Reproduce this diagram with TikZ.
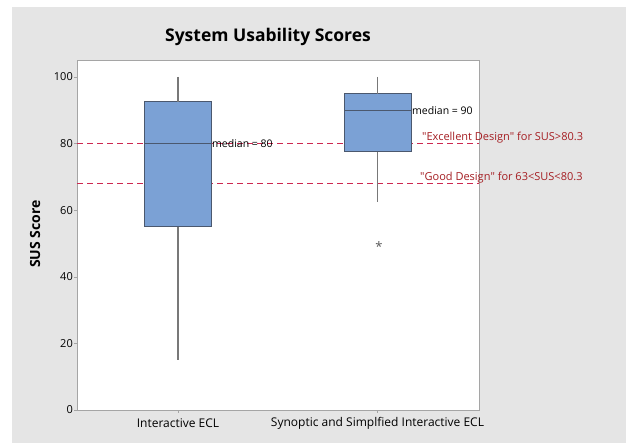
\documentclass[tikz,border=0pt]{standalone}
\usepackage{fontspec}
\setmainfont{Open Sans}
\usepackage{xcolor}

\definecolor{paneGray}{RGB}{229,229,229}
\definecolor{frameGray}{RGB}{165,165,165}
\definecolor{boxBlue}{RGB}{123,161,213}
\definecolor{boxEdge}{RGB}{75,88,110}
\definecolor{whiskGray}{RGB}{120,120,120}
\definecolor{dashRed}{RGB}{205,40,80}
\definecolor{noteRed}{RGB}{165,30,35}

\tikzset{
  boxpart/.style={fill=boxBlue,draw=boxEdge,line width=1pt},
  whisker/.style={draw=whiskGray,line width=1.3pt},
  refline/.style={draw=dashRed,line width=1.3pt,dash pattern=on 6pt off 4pt},
  ticklabel/.style={left,font=\fontsize{11}{13}\selectfont,inner sep=1pt},
  grouplabel/.style={font=\fontsize{12}{14}\selectfont},
  mediannote/.style={right,font=\fontsize{10.5}{12}\selectfont,inner sep=1pt},
  designnote/.style={right,text=noteRed,font=\fontsize{11}{13}\selectfont,inner sep=0pt}
}

\begin{document}
\begin{tikzpicture}[x=1pt,y=1pt,line cap=butt]
\useasboundingbox (0,0) rectangle (626,445);
\fill[white] (0,0) rectangle (626,445);
\fill[paneGray] (12,2) rectangle (626,438);
\node[font=\fontsize{17.5}{20}\selectfont\bfseries] (title) at (268,408) {System Usability Scores};
\node[rotate=90,font=\fontsize{14}{16}\selectfont\bfseries] (ytitle) at (35,211) {SUS Score};

\begin{scope}[shift={(77,35)},y=3.33pt]
% plot area
\fill[white] (0,0) rectangle (402,105.1);
\draw[frameGray,line width=1pt] (0,0) rectangle (402,105.1);
\foreach \v in {0,20,...,100} {
  \draw[frameGray] (-3,\v) -- (0,\v);
  \node[ticklabel] (tick\v) at (-3,\v) {\v};
}
% reference lines
\draw[refline] (0,80) -- (402,80);
\draw[refline] (0,68) -- (402,68);
% Interactive ECL
\coordinate (maxA) at (101,100);
\coordinate (minA) at (101,15);
\draw[boxpart] (67,55) rectangle (134,92.5);
\draw[whisker] (maxA) -- (101,92.5);
\draw[whisker] (101,55) -- (minA);
\draw[boxEdge,line width=1pt] (67,80) -- (134,80);
% Synoptic and Simplified Interactive ECL
\coordinate (maxB) at (300.5,100);
\coordinate (minB) at (300.5,62.5);
\draw[boxpart] (267,77.5) rectangle (334,95);
\draw[whisker] (maxB) -- (300.5,95);
\draw[whisker] (300.5,77.5) -- (minB);
\draw[boxEdge,line width=1pt] (267,90) -- (334,90);
\node[text=black!65,font=\fontsize{13}{14}\selectfont,inner sep=0pt] (outlier) at (302,49.2) {*};
% x axis
\draw[frameGray] (101,0) -- (101,-1);
\draw[frameGray] (300.5,0) -- (300.5,-1);
\node[grouplabel] (groupA) at (101,-3.9) {Interactive ECL};
\node[grouplabel] (groupB) at (300.5,-3.9) {Synoptic and Simplfied Interactive ECL};
% notes
\node[mediannote] (medA) at (134,80) {median = 80};
\node[mediannote] (medB) at (334,90) {median = 90};
\node[designnote] (excellent) at (345,81.7) {\textquotedbl Excellent Design\textquotedbl{} for SUS>80.3};
\node[designnote] (good) at (343,69.7) {\textquotedbl Good Design\textquotedbl{} for 63<SUS<80.3};
\end{scope}
\end{tikzpicture}
\end{document}
